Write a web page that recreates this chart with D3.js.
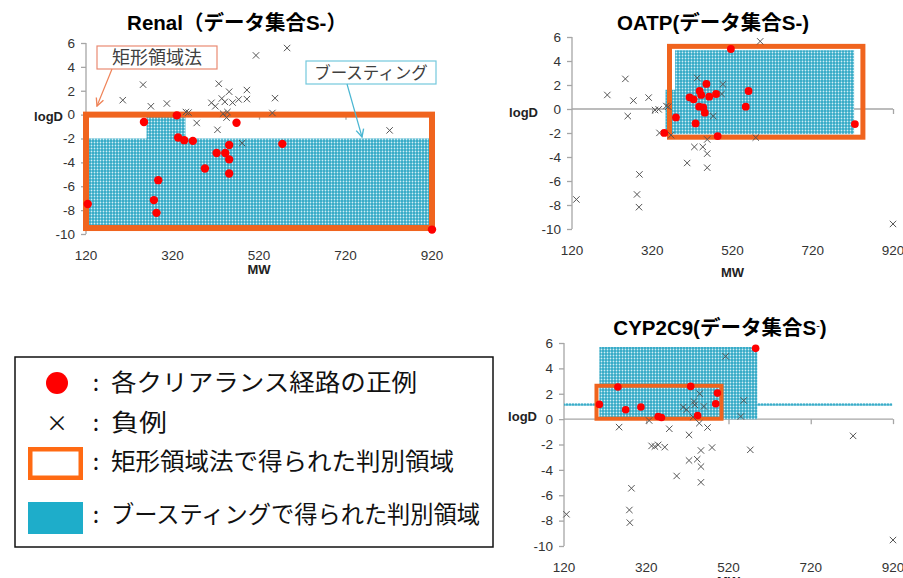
<!DOCTYPE html>
<html>
<head>
<meta charset="utf-8">
<script src="https://cdn.jsdelivr.net/npm/d3@7"></script>
<style>
  body { margin: 0; background: #fff; }
  svg { display: block; }
</style>
</head>
<body>
<div id="figure"></div>
<script>
// Tick values shared by the three panels
const xTickValues = [120, 320, 520, 720, 920];
const yTickValues = [6, 4, 2, 0, -2, -4, -6, -8, -10];

// Renal panel: [MW, logD]
const renalPositive = [[254, -0.62], [330, -0.06], [333, -1.92], [347, -2.14], [367, -2.2], [468, -0.68],
    [451, -2.54], [422, -3.21], [442, -3.21], [451, -3.75], [451, -4.93], [395, -4.51], [574, -2.45],
    [287, -5.49], [277, -7.16], [283, -8.23], [124, -7.49], [920, -9.63]];
const renalNegative = [[205, 1.21], [252, 2.51], [270, 0.7], [307, 0.93], [351, 0.22], [357, 0.17],
    [376, -0.7], [410, 0.99], [419, 0.7], [427, 2.59], [434, 1.35], [441, 1.07], [447, 0.22], [451, 1.92],
    [459, 1.01], [473, 1.27], [492, 1.3], [492, 2.06], [424, -1.27], [437, 0.08], [445, -0.25],
    [481, -2.39], [513, 4.96], [585, 5.58], [557, 1.38], [551, 0.14], [822, -1.32]];
const renalRectangle = [[120, 0], [920, -9.5]];
const renalBoosting = [[[260, 0], [350, 0], [350, -2], [920, -2], [920, -9.5], [120, -9.5], [120, -2], [260, -2]]];

// OATP panel
const oatpPositive = [[516, 5.0], [455, 2.09], [438, 1.5], [442, 1.17], [413, 0.97], [423, 0.81],
    [462, 1.03], [479, 1.25], [560, 1.5], [553, 0.19], [437, 0.19], [447, 0.14], [451, -0.31],
    [428, -1.2], [379, -0.7], [350, -1.99], [483, -2.26], [825, -1.26]];
const oatpNegative = [[208, 1.17], [253, 2.51], [273, 0.7], [259, -0.59], [311, 0.95], [327, -0.09],
    [336, -0.03], [355, 0.25], [360, 0.19], [338, -1.99], [367, -2.18], [407, -4.5], [425, -3.16],
    [446, -3.16], [457, -2.54], [457, -3.72], [457, -4.89], [432, 2.59], [496, 2.06], [493, 1.25],
    [472, -0.59], [578, -2.38], [589, 5.64], [288, -5.45], [282, -7.12], [287, -8.18], [131, -7.54],
    [920, -9.58]];
const oatpRectangle = [[363, 5.22], [845, -2.35]];
const oatpBoosting = [[[353, 1.6], [377, 1.6], [377, 4.9], [823, 4.9], [823, -2.1], [353, -2.1]]];

// CYP2C9 panel
const cypPositive = [[586, 5.58], [251, 2.53], [428, 2.58], [493, 2.05], [489, 1.21], [206, 1.16],
    [270, 0.74], [307, 0.95], [349, 0.21], [357, 0.13], [445, 0.29]];
const cypNegative = [[126, -7.5], [254, -0.63], [284, -5.45], [279, -7.16], [280, -8.16], [327, -0.11],
    [333, -2.11], [341, -2.16], [349, -2.03], [365, -2.21], [376, -0.76], [394, -4.48], [410, 0.95],
    [418, 0.74], [424, -1.24], [424, -3.26], [436, 1.39], [438, 1.13], [444, -3.16], [450, 2.0],
    [449, -0.32], [453, -2.47], [453, -3.74], [453, -4.98], [434, 0.16], [460, 1.0], [469, -0.66],
    [480, -2.24], [513, 4.95], [550, 0.21], [557, 1.47], [573, -2.42], [823, -1.32], [920, -9.53]];
const cypRectangle = [[199, 2.63], [503, 0.03]];
const cypBoosting = [[[206, 5.68], [590, 5.68], [590, 0], [206, 0]],
    [[120, 1.25], [918, 1.25], [918, 1.05], [120, 1.05]]];

// Legend texts
const legendLabels = ['各クリアランス経路の正例', '負例', '矩形領域法で得られた判別領域', 'ブースティングで得られた判別領域'];

const orange = '#f0641e';
const latinFont = '"Liberation Sans", Arial, "Noto Sans CJK JP", sans-serif';
const jpFont = '"Noto Sans CJK JP", "Noto Sans", sans-serif';

var svg = d3.select('#figure')
    .append('svg')
    .attr('width', 903)
    .attr('height', 578);

// Boosting fill pattern (blue with light dots)
var defs = svg.append('defs');
var pat = defs.append('pattern')
    .attr('id', 'boost')
    .attr('width', 3)
    .attr('height', 3)
    .attr('patternUnits', 'userSpaceOnUse');
pat.append('rect').attr('width', 3).attr('height', 3).attr('fill', '#30a8c6');
pat.append('circle').attr('cx', 1.5).attr('cy', 1.5).attr('r', 0.9).attr('fill', '#d2eef5');

// Arrow heads for the callouts
[['arrowOrange', '#ef8358'], ['arrowBlue', '#4ab6d2']].forEach(([id, c]) => {
    defs.append('marker')
        .attr('id', id)
        .attr('viewBox', '0 0 10 10')
        .attr('refX', 9).attr('refY', 5)
        .attr('markerWidth', 8).attr('markerHeight', 8)
        .attr('orient', 'auto')
        .append('path')
        .attr('d', 'M1,1L9,5L1,9')
        .attr('fill', 'none')
        .attr('stroke', c)
        .attr('stroke-width', 1.4);
});

const panels = [
    { title: ['Renal（データ集合S-）'], pos: renalPositive, neg: renalNegative, rect: renalRectangle,
      boost: renalBoosting, left: 86, right: 432, top: 43, bottom: 234, titleX: 237, titleY: 30,
      tickY: 260, mwY: 274, logdX: 63, logdY: 121, rectWidth: 6, r: 4.2 },
    { title: ['OATP(データ集合S-)'], pos: oatpPositive, neg: oatpNegative, rect: oatpRectangle,
      boost: oatpBoosting, left: 572, right: 893, top: 37, bottom: 229, titleX: 713, titleY: 30,
      tickY: 255, mwY: 277, logdX: 538, logdY: 117, rectWidth: 5, r: 3.9 },
    { title: ['CYP2C9(データ集合S', ')'], pos: cypPositive, neg: cypNegative, rect: cypRectangle,
      boost: cypBoosting, left: 564, right: 893, top: 343, bottom: 546, titleX: 720, titleY: 335,
      tickY: 572, mwY: 586, logdX: 537, logdY: 421, rectWidth: 4, r: 3.8 }
];

panels.forEach(p => {
    var g = svg.append('g');

    // The scales
    var x = d3.scaleLinear().domain([120, 920]).range([p.left, p.right]);
    var y = d3.scaleLinear().domain([-10, 6]).range([p.bottom, p.top]);

    // Y-axis, ticks pointing out to the left
    var yAxis = g.append('g')
        .attr('transform', 'translate(' + p.left + ',0)')
        .call(d3.axisLeft(y).tickValues(yTickValues).tickSize(5).tickPadding(6).tickFormat(d3.format('d')));
    yAxis.select('.domain').attr('stroke', '#a6a6a6').attr('stroke-width', 1.3).attr('d', 'M0,' + p.top + 'V' + p.bottom);
    yAxis.selectAll('line').attr('stroke', '#a6a6a6').attr('stroke-width', 1.3);
    yAxis.selectAll('text')
        .attr('fill', '#333')
        .style('font-family', latinFont)
        .style('font-size', '13.5px')
        .text(d => d < 0 ? '-' + Math.abs(d) : d);

    // X-axis line at logD = 0, labels at the bottom
    var xAxis = g.append('g')
        .attr('transform', 'translate(0,' + y(0) + ')')
        .call(d3.axisBottom(x).tickValues(xTickValues.slice(1)).tickSize(5).tickFormat(''));
    xAxis.select('.domain').attr('stroke', '#a6a6a6').attr('stroke-width', 1.3).attr('d', 'M' + p.left + ',0H' + p.right);
    xAxis.selectAll('line').attr('stroke', '#a6a6a6').attr('stroke-width', 1.3);

    g.append('g')
        .selectAll('text')
        .data(xTickValues)
        .join('text')
        .attr('x', d => x(d))
        .attr('y', p.tickY)
        .attr('text-anchor', 'middle')
        .attr('fill', '#333')
        .style('font-family', latinFont)
        .style('font-size', '13.5px')
        .text(d => d);

    // Boosting regions
    var poly = d3.line().x(d => x(d[0])).y(d => y(d[1]));
    g.append('g')
        .selectAll('path')
        .data(p.boost)
        .join('path')
        .attr('d', d => poly(d) + 'Z')
        .attr('fill', 'url(#boost)');

    // Rectangle method region
    g.append('rect')
        .attr('x', x(p.rect[0][0]))
        .attr('y', y(p.rect[0][1]))
        .attr('width', x(p.rect[1][0]) - x(p.rect[0][0]))
        .attr('height', y(p.rect[1][1]) - y(p.rect[0][1]))
        .attr('fill', 'none')
        .attr('stroke', orange)
        .attr('stroke-width', p.rectWidth);

    // Negative examples
    g.append('g')
        .selectAll('path')
        .data(p.neg)
        .join('path')
        .attr('transform', d => 'translate(' + x(d[0]) + ',' + y(d[1]) + ')')
        .attr('d', 'M-3.2,-3.2L3.2,3.2M-3.2,3.2L3.2,-3.2')
        .attr('stroke', '#555')
        .attr('stroke-width', 1);

    // Positive examples
    g.append('g')
        .selectAll('circle')
        .data(p.pos)
        .join('circle')
        .attr('cx', d => x(d[0]))
        .attr('cy', d => y(d[1]))
        .attr('r', p.r)
        .attr('fill', '#ff0000');

    // Titles
    var t = g.append('text')
        .attr('x', p.titleX)
        .attr('y', p.titleY)
        .attr('text-anchor', 'middle')
        .style('font-family', latinFont)
        .style('font-weight', 'bold')
        .style('font-size', '20.5px')
        .text(p.title[0]);
    if (p.title.length > 1) {
        t.append('tspan').attr('dy', -6).style('font-size', '11px').style('font-weight', 'normal').text('-');
        t.append('tspan').attr('dy', 6).text(p.title[1]);
    }

    g.append('text')
        .attr('x', (p.left + p.right) / 2)
        .attr('y', p.mwY)
        .attr('text-anchor', 'middle')
        .style('font-family', latinFont)
        .style('font-weight', 'bold')
        .style('font-size', '13px')
        .attr('fill', '#222')
        .text('MW');

    g.append('text')
        .attr('x', p.logdX)
        .attr('y', p.logdY)
        .attr('text-anchor', 'end')
        .style('font-family', latinFont)
        .style('font-weight', 'bold')
        .style('font-size', '13px')
        .attr('fill', '#222')
        .text('logD');
});

// Callouts on the Renal panel
svg.append('rect').attr('x', 97).attr('y', 46).attr('width', 120).attr('height', 23)
    .attr('fill', '#fff').attr('stroke', '#ea8a72').attr('stroke-width', 1.2);
svg.append('text').attr('x', 157).attr('y', 64).attr('text-anchor', 'middle')
    .style('font-family', jpFont).style('font-size', '18px').attr('fill', '#404040').text('矩形領域法');
svg.append('line').attr('x1', 112).attr('y1', 69).attr('x2', 97).attr('y2', 106)
    .attr('stroke', '#ef8358').attr('stroke-width', 1.2).attr('marker-end', 'url(#arrowOrange)');

svg.append('rect').attr('x', 306).attr('y', 61).attr('width', 130).attr('height', 23)
    .attr('fill', '#fff').attr('stroke', '#74c8dd').attr('stroke-width', 1.2);
svg.append('text').attr('x', 371).attr('y', 78.5).attr('text-anchor', 'middle')
    .style('font-family', jpFont).style('font-size', '16.5px').attr('fill', '#404040').text('ブースティング');
svg.append('line').attr('x1', 347).attr('y1', 84).attr('x2', 362).attr('y2', 137)
    .attr('stroke', '#4ab6d2').attr('stroke-width', 1.2).attr('marker-end', 'url(#arrowBlue)');

// Legend
var legend = svg.append('g');
legend.append('rect').attr('x', 15).attr('y', 357).attr('width', 478).attr('height', 190)
    .attr('fill', '#fff').attr('stroke', '#111').attr('stroke-width', 1.5);
legend.append('circle').attr('cx', 57).attr('cy', 383).attr('r', 11).attr('fill', '#ff0000');
legend.append('text').attr('x', 57).attr('y', 431).attr('text-anchor', 'middle')
    .style('font-family', jpFont).style('font-size', '22px').attr('fill', '#111').text('×');
legend.append('rect').attr('x', 30.25).attr('y', 449.25).attr('width', 50.5).attr('height', 28.5)
    .attr('fill', '#fff').attr('stroke', '#ff6a13').attr('stroke-width', 4.5);
legend.append('rect').attr('x', 28).attr('y', 502).attr('width', 55).attr('height', 32).attr('fill', '#1eadca');

const legendY = [391, 431, 470, 523];
const legendW = [306, 56, 343, 369];
legend.selectAll('.colon')
    .data(legendLabels)
    .join('text')
    .attr('class', 'colon')
    .attr('x', 96)
    .attr('y', (d, i) => legendY[i])
    .attr('text-anchor', 'middle')
    .style('font-family', jpFont)
    .style('font-size', '23px')
    .attr('fill', '#111')
    .text(':');
legend.selectAll('.label')
    .data(legendLabels)
    .join('text')
    .attr('class', 'label')
    .attr('x', 111)
    .attr('y', (d, i) => legendY[i])
    .attr('textLength', (d, i) => legendW[i])
    .attr('lengthAdjust', 'spacingAndGlyphs')
    .style('font-family', jpFont)
    .style('font-size', '23.5px')
    .attr('fill', '#111')
    .text(d => d);
</script>
</body>
</html>
